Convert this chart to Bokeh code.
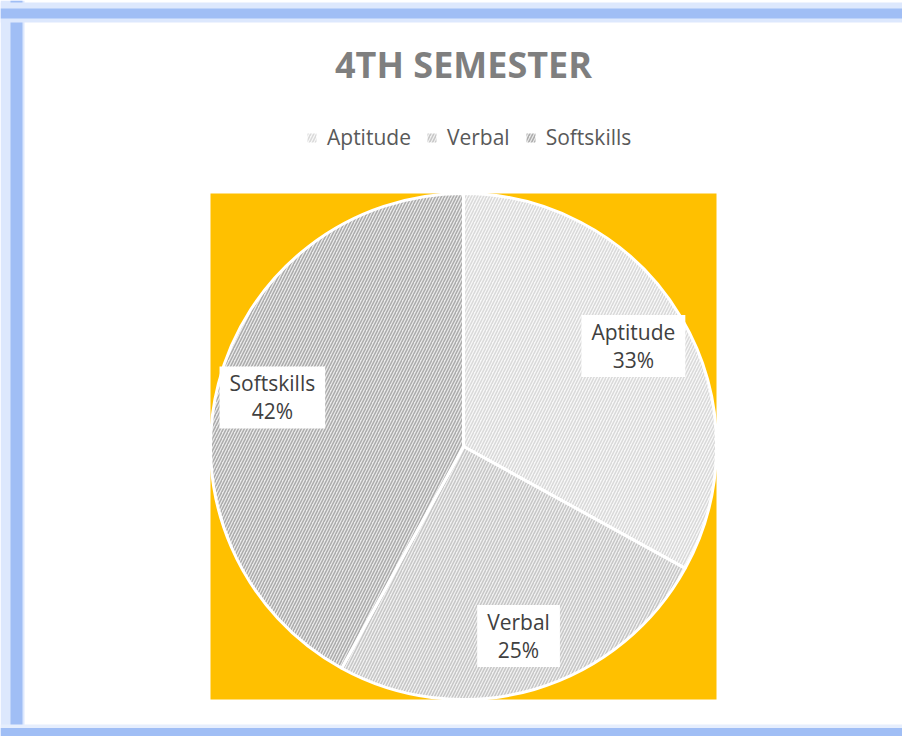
import math
from bokeh.plotting import figure
from bokeh.models import Range1d, Span, ColumnDataSource
from bokeh.core.properties import value
from bokeh.embed import file_html
from bokeh.resources import INLINE

title_text = "4TH SEMESTER"
categories = ["Aptitude", "Verbal", "Softskills"]
shares = [33, 25, 42]
fill_colors = ["#f8f8f8", "#f1f1f1", "#eaeaea"]
hatch_colors = ["#d9d9d9", "#c6c6c6", "#ababab"]

W, H = 902, 736
cx, cy, r = 463, 290, 253

p = figure(width=W, height=H, x_range=Range1d(0, W), y_range=Range1d(0, H),
           output_backend="svg", toolbar_location=None, min_border=0,
           x_axis_type=None, y_axis_type=None)
p.grid.visible = False
p.outline_line_color = None
p.background_fill_color = "white"
p.border_fill_color = "white"

# blue frame glow
p.add_layout(Span(location=12, dimension="height", line_color="#dde8fd", line_width=24))
p.add_layout(Span(location=16, dimension="height", line_color="#a0bef5", line_width=12))
p.add_layout(Span(location=H - 12, dimension="width", line_color="#dde8fd", line_width=20))
p.add_layout(Span(location=H - 13, dimension="width", line_color="#a0bef5", line_width=10))
p.add_layout(Span(location=8, dimension="width", line_color="#e6eefd", line_width=8))
p.add_layout(Span(location=4, dimension="width", line_color="#a0bef5", line_width=9))

# yellow plot area
p.rect(x=[cx], y=[cy], width=[2 * r], height=[2 * r], fill_color="#ffc000", line_color=None)

total = float(sum(shares))
starts, ends, mids = [], [], []
acc = 0.0
for s in shares:
    a0 = acc / total
    acc += s
    a1 = acc / total
    starts.append(math.pi / 2 - 2 * math.pi * a0)
    ends.append(math.pi / 2 - 2 * math.pi * a1)
    mids.append((a0 + a1) / 2)

src = ColumnDataSource(dict(cat=categories, start=starts, end=ends,
                            fill=fill_colors, hatch=hatch_colors))
p.wedge(x=cx, y=cy, radius=r, start_angle="start", end_angle="end", direction="clock",
        source=src, fill_color="fill", hatch_color="hatch", hatch_pattern="/",
        hatch_scale=6, hatch_weight=1.5, line_color="white", line_width=3,
        legend_field="cat")

leg = p.legend[0]
leg.orientation = "horizontal"
leg.location = (304, 585)
leg.padding = 0
leg.margin = 0
leg.spacing = 13
leg.glyph_width = 15
leg.glyph_height = 15
leg.label_standoff = 8
leg.border_line_color = None
leg.background_fill_alpha = 0
leg.label_text_font = "Open Sans"
leg.label_text_font_size = "21px"
leg.label_text_color = "#595959"

# title
p.text(x=[cx], y=[672], text=[title_text], text_font=value("Open Sans"),
       text_font_style="bold", text_font_size="36px", text_color="#7f7f7f",
       text_align="center", text_baseline="alphabetic")

# data labels
lr = 0.78 * r
lx = [cx + lr * math.sin(2 * math.pi * m) for m in mids]
ly = [cy + lr * math.cos(2 * math.pi * m) for m in mids]
ltext = [f"{c}\n{s}%" for c, s in zip(categories, shares)]
p.text(x=lx, y=ly, text=ltext, text_font=value("Open Sans"), text_font_size="21px",
       text_color="#404040", text_align="center", text_baseline="middle",
       text_line_height=1.0, background_fill_color="white", padding=[10, 3],
       border_line_color=None)

open("out.html", "w").write(file_html(p, INLINE))
